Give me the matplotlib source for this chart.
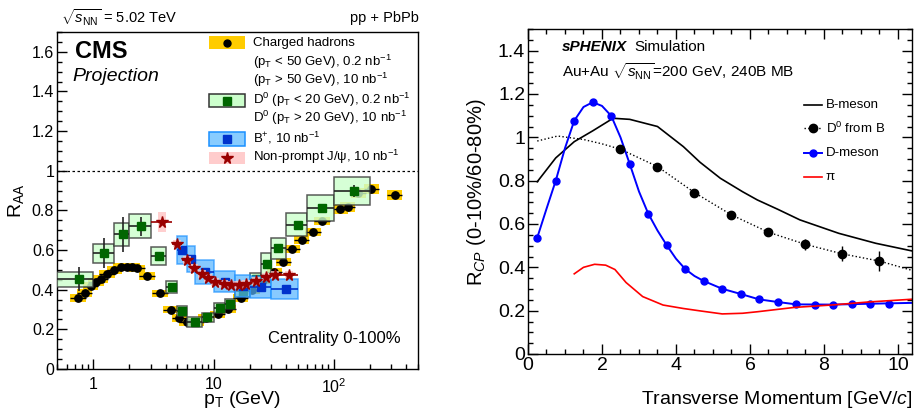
import numpy as np
import matplotlib
matplotlib.use('Agg')
import matplotlib.pyplot as plt
from matplotlib.patches import Rectangle
from matplotlib.lines import Line2D
from matplotlib.ticker import FixedLocator, MultipleLocator, FuncFormatter, LogLocator, NullFormatter

plt.rcParams['font.family'] = ['Liberation Sans', 'DejaVu Sans']
plt.rcParams['mathtext.fontset'] = 'custom'
plt.rcParams['mathtext.rm'] = 'Liberation Sans'
plt.rcParams['mathtext.it'] = 'Liberation Sans:italic'
plt.rcParams['mathtext.bf'] = 'Liberation Sans:bold'

# ---------------- CMS projection (left) ----------------
# charged hadrons
ch_pt = [0.75, 0.85, 0.95, 1.05, 1.15, 1.3, 1.5, 1.7, 1.9, 2.1, 2.3, 2.8, 3.6, 4.4,
         5.2, 6.0, 7.2, 8.6, 10.8, 13.3, 16.8, 21, 26, 32, 38, 45, 54, 67, 80,
         113, 130, 160, 205, 320]
ch_raa = [0.36, 0.385, 0.42, 0.44, 0.456, 0.478, 0.498, 0.517, 0.517, 0.515, 0.507, 0.47, 0.381, 0.30,
          0.256, 0.235, 0.238, 0.255, 0.275, 0.305, 0.36, 0.40, 0.45, 0.49, 0.54, 0.603, 0.652, 0.691, 0.746,
          0.808, 0.815, 0.89, 0.906, 0.88]
ch_sys = [0.02] * 29 + [0.025] * 5

# D0
d0_edges = [0.5, 1, 1.5, 2, 3, 4, 5, 6, 8, 10, 12.5, 15, 20, 25, 30, 40, 60, 100, 200]
d0_pt = [0.757, 1.24, 1.76, 2.51, 3.49, 4.53, 5.48, 6.96, 8.9, 11.3, 13.7, 17.4, 22.4, 27.6, 34.4, 50, 79.6, 146]
d0_raa = [0.453, 0.585, 0.679, 0.72, 0.57, 0.414, 0.293, 0.238, 0.26, 0.308, 0.33, 0.392, 0.456, 0.528,
          0.61, 0.728, 0.812, 0.897]
d0_stat = [0.06, 0.075, 0.09, 0.048, 0.02, 0.012, 0.01, 0.008, 0.008, 0.008, 0.008, 0.008, 0.01, 0.012,
           0.015, 0.02, 0.02, 0.03]
d0_sys = [0.038, 0.048, 0.057, 0.06, 0.043, 0.031, 0.026, 0.025, 0.025, 0.025, 0.025, 0.03, 0.03, 0.055,
          0.053, 0.057, 0.066, 0.072]

# B+
bp_edges = [5, 6, 7, 10, 15, 20, 30, 50]
bp_pt = [5.5, 6.5, 8.5, 12.5, 17.5, 25, 40]
bp_raa = [0.60, 0.555, 0.49, 0.44, 0.42, 0.415, 0.405]
bp_stat = [0.02, 0.015, 0.012, 0.012, 0.012, 0.015, 0.02]
bp_sys = [0.07, 0.065, 0.061, 0.054, 0.055, 0.055, 0.05]

# non-prompt J/psi
jp_edges = [3.0, 4.5, 5.5, 6.5, 7.5, 8.5, 9.5, 11, 13, 15, 17.5, 20, 25, 30, 35, 50]
jp_pt = [3.75, 5.0, 6.0, 6.9, 8.0, 9.0, 10.3, 12.1, 13.9, 16.3, 18.7, 22.4, 27.4, 32.3, 42]
jp_raa = [0.74, 0.633, 0.548, 0.51, 0.478, 0.46, 0.44, 0.428, 0.425, 0.423, 0.428, 0.444, 0.464, 0.473, 0.473]
jp_sys = [0.05] + [0.02] * 14

# ---------------- sPHENIX simulation (right) ----------------
b_x = [0.25, 0.75, 1.25, 1.75, 2.3, 2.75, 3.5, 4.2, 4.65, 5.2, 5.8, 6.2, 6.75, 7.35, 8.4, 9.4, 10.4]
b_y = [0.795, 0.905, 0.98, 1.03, 1.088, 1.083, 1.05, 0.957, 0.885, 0.811, 0.749, 0.711, 0.668, 0.619,
       0.557, 0.511, 0.475]

db_curve_x = [0.25, 0.8, 1.5, 2.0, 2.5, 3.5, 4.5, 5.5, 6.5, 7.5, 8.5, 9.5, 10.4]
db_curve_y = [0.983, 1.006, 0.99, 0.97, 0.945, 0.865, 0.745, 0.642, 0.562, 0.506, 0.462, 0.429, 0.385]
db_x = [2.5, 3.5, 4.5, 5.5, 6.5, 7.5, 8.5, 9.5]
db_y = [0.945, 0.865, 0.745, 0.642, 0.562, 0.506, 0.462, 0.429]
db_err = [0.012, 0.01, 0.012, 0.012, 0.014, 0.025, 0.035, 0.048]

dm_x = [0.25, 0.75, 1.25, 1.75, 2.25, 2.75, 3.25, 3.75, 4.25, 4.75, 5.25, 5.75, 6.25, 6.75,
        7.25, 7.75, 8.25, 8.75, 9.25, 9.75]
dm_y = [0.537, 0.80, 1.077, 1.162, 1.099, 0.877, 0.648, 0.502, 0.392, 0.337, 0.301, 0.277, 0.252, 0.24,
        0.229, 0.228, 0.228, 0.229, 0.232, 0.232]
dm_curve_x = [0.25, 0.5, 0.75, 1.0, 1.25, 1.5, 1.75, 2.0, 2.25, 2.5, 2.75, 3.0, 3.25, 3.5, 3.75, 4.0,
              4.25, 4.5, 4.75, 5.25, 5.75, 6.25, 6.75, 7.25, 8.25, 9.25, 10.4]
dm_curve_y = [0.537, 0.67, 0.80, 0.95, 1.077, 1.14, 1.162, 1.145, 1.099, 1.0, 0.877, 0.75, 0.648, 0.57,
              0.502, 0.44, 0.392, 0.36, 0.337, 0.301, 0.277, 0.252, 0.24, 0.229, 0.228, 0.232, 0.236]

pi_x = [1.25, 1.5, 1.8, 2.1, 2.35, 2.65, 3.1, 3.65, 4.2, 4.65, 5.25, 5.8, 6.2, 7.2, 8.2, 9.2, 10.4]
pi_y = [0.37, 0.40, 0.414, 0.41, 0.39, 0.33, 0.265, 0.226, 0.21, 0.199, 0.185, 0.188, 0.195, 0.215,
        0.226, 0.24, 0.253]

W, H = 914, 413
fig = plt.figure(figsize=(W / 100, H / 100), dpi=100)

# ================= left panel =================
ax1 = fig.add_axes([57 / W, 44 / H, 361 / W, 337 / H])
ax1.set_xscale('log')
ax1.set_xlim(0.5, 500)
ax1.set_ylim(0, 1.7)

box_f = 1.16
for pt, r, s in zip(ch_pt, ch_raa, ch_sys):
    ax1.add_patch(Rectangle((pt / box_f, r - s), pt * box_f - pt / box_f, 2 * s,
                            facecolor='#ffcc00', edgecolor='none', zorder=1))
ch_xerr = [[p - p / box_f for p in ch_pt], [p * box_f - p for p in ch_pt]]
ax1.errorbar(ch_pt, ch_raa, xerr=ch_xerr, fmt='o', color='black', ms=5.3, elinewidth=1,
             capsize=0, zorder=2)

for i, (pt, r, s) in enumerate(zip(d0_pt, d0_raa, d0_sys)):
    ax1.add_patch(Rectangle((d0_edges[i], r - s), d0_edges[i + 1] - d0_edges[i], 2 * s,
                            facecolor='#ccffcc', edgecolor='#333333', lw=1.1, alpha=0.8, zorder=3))
d0_xerr = [[p - d0_edges[i] for i, p in enumerate(d0_pt)],
           [d0_edges[i + 1] - p for i, p in enumerate(d0_pt)]]
ax1.errorbar(d0_pt, d0_raa, xerr=d0_xerr, yerr=d0_stat, fmt='none', ecolor='#222222',
             elinewidth=1.2, capsize=0, zorder=3.5)
ax1.plot(d0_pt, d0_raa, 's', color='#006600', ms=5.5, zorder=4)

for i, (pt, r, s) in enumerate(zip(bp_pt, bp_raa, bp_sys)):
    ax1.add_patch(Rectangle((bp_edges[i], r - s), bp_edges[i + 1] - bp_edges[i], 2 * s,
                            facecolor='#55b4ff', edgecolor='#1a90ff', lw=1.1, alpha=0.7, zorder=5))
bp_xerr = [[p - bp_edges[i] for i, p in enumerate(bp_pt)],
           [bp_edges[i + 1] - p for i, p in enumerate(bp_pt)]]
ax1.errorbar(bp_pt, bp_raa, xerr=bp_xerr, yerr=bp_stat, fmt='s', color='#0033cc', ms=5.5,
             elinewidth=1.2, capsize=0, zorder=6)

jp_f = 1.08
for pt, r, s in zip(jp_pt, jp_raa, jp_sys):
    ax1.add_patch(Rectangle((pt / jp_f, r - s), pt * jp_f - pt / jp_f, 2 * s,
                            facecolor='#ffc4c4', edgecolor='none', alpha=0.8, zorder=6.5))
jp_xerr = [[p - jp_edges[i] for i, p in enumerate(jp_pt)],
           [jp_edges[i + 1] - p for i, p in enumerate(jp_pt)]]
ax1.errorbar(jp_pt, jp_raa, xerr=jp_xerr, fmt='*', color='#990000', ms=8.5, elinewidth=1.2,
             capsize=0, zorder=7)

ax1.axhline(1.0, color='black', ls=(0, (2, 2)), lw=0.9, zorder=0.5)

ax1.xaxis.set_major_locator(FixedLocator([1, 10, 100]))
ax1.xaxis.set_major_formatter(FuncFormatter(lambda v, p: {1: '1', 10: '10', 100: '$10^2$'}.get(int(round(v)), '')))
ax1.xaxis.set_minor_locator(LogLocator(base=10, subs=np.arange(2, 10)))
ax1.xaxis.set_minor_formatter(NullFormatter())
ax1.yaxis.set_major_locator(MultipleLocator(0.2))
ax1.yaxis.set_minor_locator(MultipleLocator(0.05))
ax1.yaxis.set_major_formatter(FuncFormatter(lambda v, p: '%g' % round(v, 2)))
ax1.tick_params(which='both', direction='in', top=False, right=False, labelsize=11.5, width=1)
ax1.tick_params(which='major', length=7)
ax1.tick_params(which='minor', length=3.5)
ax1.tick_params(axis='x', pad=6)
ax1.tick_params(axis='y', pad=2)
for sp in ax1.spines.values():
    sp.set_linewidth(1)

ax1.set_xlabel(r'p$_{\mathrm{T}}$ (GeV)', fontsize=14)
ax1.xaxis.set_label_coords((242 - 57) / 361, (369 - 400) / 337)
ax1.xaxis.label.set_va('center')
ax1.set_ylabel(r'R$_{\mathrm{AA}}$', fontsize=14)
ax1.yaxis.set_label_coords((16 - 57) / 361, 0.5)
ax1.yaxis.label.set_va('center')

# CMS labels
ax1.text(0.05, 0.942, 'CMS', transform=ax1.transAxes, fontsize=17, fontweight='bold', va='center')
ax1.text(0.042, 0.869, 'Projection', transform=ax1.transAxes, fontsize=14, style='italic', va='center')
ax1.text(0.767, 0.091, 'Centrality 0-100%', transform=ax1.transAxes, fontsize=12, ha='center', va='center')
fig.text(61 / W, 1 - 18 / H, r'$\sqrt{s_{\mathrm{NN}}}$ = 5.02 TeV', fontsize=10.5, va='center')
fig.text(419 / W, 1 - 18 / H, 'pp + PbPb', fontsize=10.5, va='center', ha='right')

# legend (left)
lx0, lx1, mx, tx = 0.421, 0.521, 0.471, 0.543
leg_boxes = [
    (0.949, 0.988, '#ffcc00', 'none', 'o', 'black', 5),
    (0.776, 0.815, '#ccffcc', '#333333', 's', '#006600', 5.5),
    (0.663, 0.702, '#88ccff', '#1a90ff', 's', '#0033cc', 5.5),
    (0.607, 0.645, '#ffcccc', 'none', '*', '#990000', 8.5),
]
for y0, y1, fc, ec, mk, mc, ms in leg_boxes:
    ax1.add_patch(Rectangle((lx0, y0), lx1 - lx0, y1 - y0, transform=ax1.transAxes,
                            facecolor=fc, edgecolor=ec, lw=1.1, zorder=8))
    ax1.plot([mx], [(y0 + y1) / 2], mk, color=mc, ms=ms, transform=ax1.transAxes, zorder=9)
leg_texts = [
    (0.967, 'Charged hadrons'),
    (0.912, r'(p$_{\mathrm{T}}$ < 50 GeV), 0.2 nb$^{-1}$'),
    (0.858, r'(p$_{\mathrm{T}}$ > 50 GeV), 10 nb$^{-1}$'),
    (0.798, r'D$^{0}$ (p$_{\mathrm{T}}$ < 20 GeV), 0.2 nb$^{-1}$'),
    (0.745, r'D$^{0}$ (p$_{\mathrm{T}}$ > 20 GeV), 10 nb$^{-1}$'),
    (0.686, r'B$^{+}$, 10 nb$^{-1}$'),
    (0.630, r'Non-prompt J/ψ, 10 nb$^{-1}$'),
]
for y, t in leg_texts:
    ax1.text(tx, y, t, transform=ax1.transAxes, fontsize=9.5, va='center', zorder=9)

# ================= right panel =================
ax2 = fig.add_axes([528 / W, 59 / H, 384 / W, 325 / H])
ax2.set_xlim(0, 10.38)
ax2.set_ylim(0, 1.5)

ax2.plot(b_x, b_y, '-', color='black', lw=1.2)
ax2.plot(db_curve_x, db_curve_y, ':', color='black', lw=1)
ax2.errorbar(db_x, db_y, yerr=db_err, fmt='o', color='black', ms=6, elinewidth=1, capsize=0)
ax2.plot(dm_curve_x, dm_curve_y, '-', color='blue', lw=1.4)
ax2.plot(dm_x, dm_y, 'o', color='blue', ms=5)
ax2.plot(pi_x, pi_y, '-', color='red', lw=1.2)

ax2.xaxis.set_major_locator(MultipleLocator(2))
ax2.xaxis.set_minor_locator(MultipleLocator(0.5))
ax2.yaxis.set_major_locator(MultipleLocator(0.2))
ax2.yaxis.set_minor_locator(MultipleLocator(0.05))
ax2.yaxis.set_major_formatter(FuncFormatter(lambda v, p: '%g' % round(v, 2)))
ax2.xaxis.set_major_formatter(FuncFormatter(lambda v, p: '%g' % round(v, 2)))
ax2.tick_params(which='both', direction='in', top=True, right=True, labelsize=14, width=1)
ax2.tick_params(which='major', length=7)
ax2.tick_params(which='minor', length=3.5)
ax2.tick_params(axis='x', pad=2)
ax2.tick_params(axis='y', pad=2)
for sp in ax2.spines.values():
    sp.set_linewidth(1)

ax2.set_xlabel(r'Transverse Momentum [GeV/$c$]', fontsize=14)
ax2.xaxis.set_label_coords(1.0, (354 - 400) / 325)
ax2.xaxis.label.set_ha('right')
ax2.xaxis.label.set_va('center')
ax2.set_ylabel(r'R$_{CP}$ (0-10%/60-80%)', fontsize=14.5)
ax2.yaxis.set_label_coords((477 - 528) / 384, 0.498)
ax2.yaxis.label.set_va('center')

fig.text(562 / W, 1 - 46.7 / H, 'sPHENIX', fontsize=11, fontweight='bold', style='italic', va='center')
fig.text(634 / W, 1 - 46.7 / H, 'Simulation', fontsize=11, va='center')
fig.text(562 / W, 1 - 71.7 / H, r'Au+Au $\sqrt{s_{\mathrm{NN}}}$=200 GeV, 240B MB', fontsize=11, va='center')

# legend (right)
l0, l1, lt = 0.719, 0.765, 0.776
ax2.add_line(Line2D([l0, l1], [0.767, 0.767], color='black', lw=1.2, transform=ax2.transAxes))
ax2.add_line(Line2D([l0, l1], [0.694, 0.694], color='black', lw=1, ls=':', transform=ax2.transAxes))
ax2.plot([(l0 + l1) / 2], [0.694], 'o', color='black', ms=6, transform=ax2.transAxes)
ax2.add_line(Line2D([l0, l1], [0.618, 0.618], color='blue', lw=1.4, transform=ax2.transAxes))
ax2.plot([(l0 + l1) / 2], [0.618], 'o', color='blue', ms=5, transform=ax2.transAxes)
ax2.add_line(Line2D([l0, l1], [0.546, 0.546], color='red', lw=1.2, transform=ax2.transAxes))
for y, t in [(0.767, 'B-meson'), (0.694, r'D$^{0}$ from B'), (0.618, 'D-meson'), (0.546, 'π')]:
    ax2.text(lt, y, t, transform=ax2.transAxes, fontsize=9.5, va='center')

fig.savefig('out.png', dpi=100)
